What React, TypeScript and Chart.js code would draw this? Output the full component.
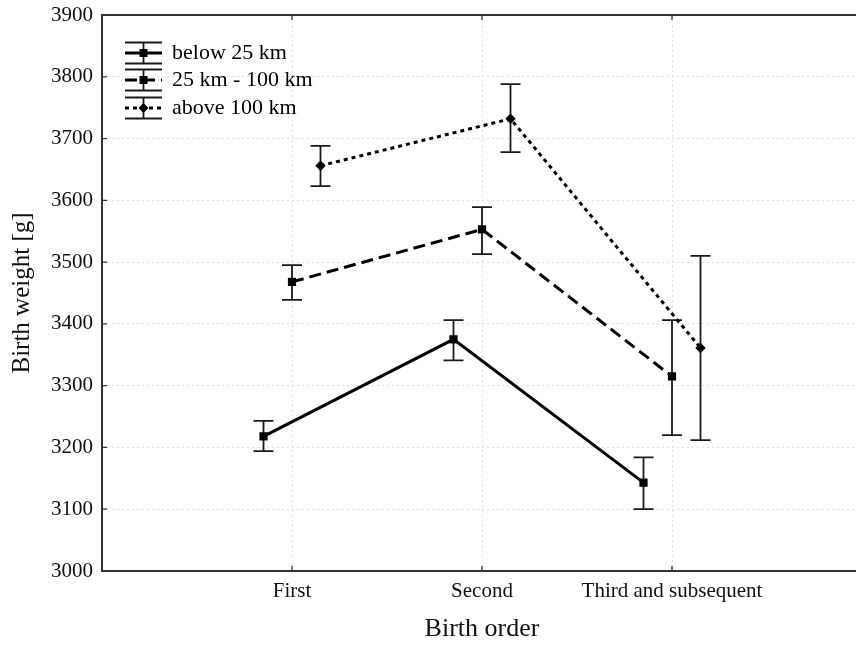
import React, { useEffect, useRef } from "react";
import { Chart, registerables } from "chart.js";

Chart.register(...registerables);

const categories = ["First", "Second", "Third and subsequent"];
const seriesNames = ["below 25 km", "25 km - 100 km", "above 100 km"];

const below25Mean = [3218, 3375, 3143];
const below25Low = [3194, 3341, 3100];
const below25High = [3243, 3406, 3184];

const mid25to100Mean = [3468, 3553, 3315];
const mid25to100Low = [3439, 3513, 3220];
const mid25to100High = [3495, 3589, 3406];

const above100Mean = [3656, 3732, 3361];
const above100Low = [3623, 3678, 3212];
const above100High = [3688, 3788, 3510];

const yTicks = [3000, 3100, 3200, 3300, 3400, 3500, 3600, 3700, 3800, 3900];

const FONT = '"Liberation Serif", "Times New Roman", serif';

const seriesMeans = [below25Mean, mid25to100Mean, above100Mean];
const seriesLows = [below25Low, mid25to100Low, above100Low];
const seriesHighs = [below25High, mid25to100High, above100High];
const seriesOffsets = [-0.15, 0, 0.15];
const seriesDash = [[], [12, 6], [4, 4]];
const seriesPoint = ["rect", "rect", "rectRot"];
const seriesRadius = [5.8, 5.8, 5.2];

export default function App() {
  const ref = useRef<HTMLCanvasElement | null>(null);

  useEffect(() => {
    if (!ref.current) return;

    const datasets = seriesNames.map((name, s) => ({
      label: name,
      data: seriesMeans[s].map((v, i) => ({ x: i + 1 + seriesOffsets[s], y: v })),
      borderColor: "#000",
      backgroundColor: "#000",
      borderWidth: 3,
      borderDash: seriesDash[s],
      pointStyle: seriesPoint[s],
      pointRadius: seriesRadius[s],
      pointBorderWidth: 0,
      pointBackgroundColor: "#000",
      tension: 0,
      fill: false,
    }));

    const errorBars = {
      id: "errorBars",
      beforeDatasetsDraw(chart: any) {
        const ctx = chart.ctx;
        const xs = chart.scales.x;
        const ys = chart.scales.y;
        ctx.save();
        ctx.strokeStyle = "#1a1a1a";
        ctx.lineWidth = 1.8;
        ctx.setLineDash([]);
        seriesNames.forEach((_, s) => {
          seriesMeans[s].forEach((_v, i) => {
            const x = xs.getPixelForValue(i + 1 + seriesOffsets[s]);
            const yl = ys.getPixelForValue(seriesLows[s][i]);
            const yh = ys.getPixelForValue(seriesHighs[s][i]);
            ctx.beginPath();
            ctx.moveTo(x, yl);
            ctx.lineTo(x, yh);
            ctx.moveTo(x - 10, yl);
            ctx.lineTo(x + 10, yl);
            ctx.moveTo(x - 10, yh);
            ctx.lineTo(x + 10, yh);
            ctx.stroke();
          });
        });
        ctx.restore();
      },
    };

    const frame = {
      id: "frame",
      afterDraw(chart: any) {
        const ctx = chart.ctx;
        const { left, right, top, bottom } = chart.chartArea;
        const xs = chart.scales.x;
        const ys = chart.scales.y;
        ctx.save();
        ctx.setLineDash([]);
        ctx.strokeStyle = "#333";
        ctx.lineWidth = 2;
        ctx.strokeRect(left, top, right - left, bottom - top);
        ctx.lineWidth = 1.3;
        ctx.beginPath();
        yTicks.forEach((v) => {
          const y = ys.getPixelForValue(v);
          ctx.moveTo(left, y);
          ctx.lineTo(left + 5, y);
        });
        categories.forEach((_, i) => {
          const x = xs.getPixelForValue(i + 1);
          ctx.moveTo(x, bottom);
          ctx.lineTo(x, bottom - 5);
          ctx.moveTo(x, top);
          ctx.lineTo(x, top + 5);
        });
        ctx.stroke();

        // legend
        const lx0 = left + 23;
        const lx1 = left + 60;
        const lxc = (lx0 + lx1) / 2;
        const rowY = [top + 38, top + 65, top + 93];
        ctx.font = `22px ${FONT}`;
        ctx.textBaseline = "middle";
        ctx.textAlign = "left";
        ctx.fillStyle = "#000";
        seriesNames.forEach((name, s) => {
          const y = rowY[s];
          ctx.strokeStyle = "#1a1a1a";
          ctx.lineWidth = 1.8;
          ctx.setLineDash([]);
          ctx.beginPath();
          ctx.moveTo(lxc, y - 10.5);
          ctx.lineTo(lxc, y + 10.5);
          ctx.moveTo(lx0, y - 10.5);
          ctx.lineTo(lx1, y - 10.5);
          ctx.moveTo(lx0, y + 10.5);
          ctx.lineTo(lx1, y + 10.5);
          ctx.stroke();
          ctx.strokeStyle = "#000";
          ctx.lineWidth = 3;
          ctx.setLineDash(seriesDash[s]);
          ctx.beginPath();
          ctx.moveTo(lx0, y);
          ctx.lineTo(lx1, y);
          ctx.stroke();
          ctx.setLineDash([]);
          ctx.beginPath();
          if (seriesPoint[s] === "rect") {
            ctx.rect(lxc - 4, y - 4, 8, 8);
          } else {
            ctx.moveTo(lxc, y - 5);
            ctx.lineTo(lxc + 5, y);
            ctx.lineTo(lxc, y + 5);
            ctx.lineTo(lxc - 5, y);
            ctx.closePath();
          }
          ctx.fill();
          ctx.fillText(name, left + 70, y);
        });
        ctx.restore();
      },
    };

    const chart = new Chart(ref.current, {
      type: "line",
      data: { datasets: datasets as any },
      options: {
        animation: false,
        responsive: false,
        maintainAspectRatio: false,
        layout: { padding: { left: 0, top: 15, right: 18, bottom: 0 } },
        plugins: { legend: { display: false }, tooltip: { enabled: false } },
        scales: {
          x: {
            type: "linear",
            min: 0,
            max: 4,
            afterBuildTicks: (scale: any) => {
              scale.ticks = categories.map((_, i) => ({ value: i + 1 }));
            },
            afterFit: (scale: any) => {
              scale.height = 74;
              scale.paddingLeft = 0;
              scale.paddingRight = 0;
            },
            ticks: {
              callback: (v: any) => categories[Math.round(Number(v)) - 1] ?? "",
              font: { family: FONT, size: 21 },
              color: "#111",
              padding: 8,
              maxRotation: 0,
              autoSkip: false,
            },
            grid: { color: "#e2e2e2", lineWidth: 1, drawTicks: false, tickLength: 0 },
            border: { display: false, dash: [2, 3] },
            title: {
              display: true,
              text: "Birth order",
              font: { family: FONT, size: 26 },
              color: "#111",
              padding: { top: 0, bottom: 0 },
            },
          },
          y: {
            min: 3000,
            max: 3900,
            afterBuildTicks: (scale: any) => {
              scale.ticks = yTicks.map((v) => ({ value: v }));
            },
            afterFit: (scale: any) => {
              scale.width = 102;
              scale.paddingTop = 0;
              scale.paddingBottom = 0;
            },
            ticks: {
              callback: (v: any) => String(v),
              font: { family: FONT, size: 21 },
              color: "#111",
              padding: 9,
            },
            grid: { color: "#e2e2e2", lineWidth: 1, drawTicks: false, tickLength: 0 },
            border: { display: false, dash: [2, 3] },
            title: {
              display: true,
              text: "Birth weight [g]",
              font: { family: FONT, size: 25 },
              color: "#111",
              padding: { top: 7, bottom: 0 },
            },
          },
        },
      },
      plugins: [errorBars, frame],
    });

    return () => chart.destroy();
  }, []);

  return (
    <div
      style={{
        position: "fixed",
        left: 0,
        top: 0,
        width: 856,
        height: 645,
        overflow: "hidden",
        background: "#fff",
      }}
    >
      <canvas ref={ref} width={880} height={645} style={{ display: "block" }} />
    </div>
  );
}
